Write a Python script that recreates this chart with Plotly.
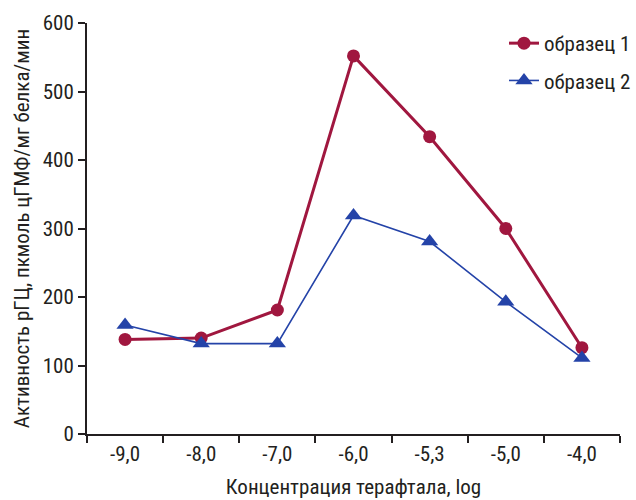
import plotly.graph_objects as go

categories = ["-9,0", "-8,0", "-7,0", "-6,0", "-5,3", "-5,0", "-4,0"]
sample1 = [138, 140, 181, 552, 434, 300, 126]
sample2 = [159, 132, 132, 319, 281, 193, 111]
series_names = ["образец 1", "образец 2"]
y_ticks = [0, 100, 200, 300, 400, 500, 600]

FONT = "Liberation Sans Narrow, Roboto Condensed, Arial Narrow, sans-serif"
TXT = "#231f20"

W, H = 636, 500
L, T, B = 87, 23, 66
PLOT_W = 533

fig = go.Figure()
fig.add_trace(go.Scatter(
    x=categories, y=sample1, name=series_names[0], mode="lines+markers",
    legendgroup="a",
    line=dict(color="#a0173f", width=3),
    marker=dict(symbol="circle", size=13, color="#a0173f"),
))
fig.add_trace(go.Scatter(
    x=categories, y=sample2, name=series_names[1], mode="lines+markers",
    legendgroup="b",
    line=dict(color="#2443a8", width=1.6),
    marker=dict(symbol="triangle-up", size=15, color="#2443a8"),
))

fig.update_layout(
    width=W, height=H,
    margin=dict(l=L, r=0, t=T, b=B),
    paper_bgcolor="white", plot_bgcolor="white",
    font=dict(family=FONT, size=20, color=TXT),
    showlegend=True,
    legend=dict(x=1.0, y=1.0, xanchor="right", yanchor="top",
                bgcolor="rgba(0,0,0,0)", font=dict(size=21, color=TXT),
                itemwidth=30, tracegroupgap=7, traceorder="grouped"),
    xaxis=dict(
        domain=[0, PLOT_W / (W - L)],
        type="category", categoryorder="array", categoryarray=categories,
        range=[-0.5, 6.5], tickson="boundaries", automargin=False,
        showline=True, linecolor="#231f20", linewidth=2,
        ticks="outside", ticklen=7, tickwidth=2, tickcolor="#231f20",
        showgrid=False, zeroline=False,
        title=dict(text="Концентрация терафтала, log", font=dict(size=21), standoff=14),
        tickfont=dict(size=21),
    ),
    yaxis=dict(
        range=[0, 600], tickvals=y_ticks, automargin=False,
        showline=True, linecolor="#231f20", linewidth=2,
        ticks="outside", ticklen=7, tickwidth=2, tickcolor="#231f20",
        showgrid=False, zeroline=False,
        title=dict(text="Активность рГЦ, пкмоль цГМФ/мг белка/мин", font=dict(size=21), standoff=7),
        tickfont=dict(size=21),
    ),
)

fig.write_html("out.html", config={"displayModeBar": False},
               post_script="document.body.style.margin='0';")
